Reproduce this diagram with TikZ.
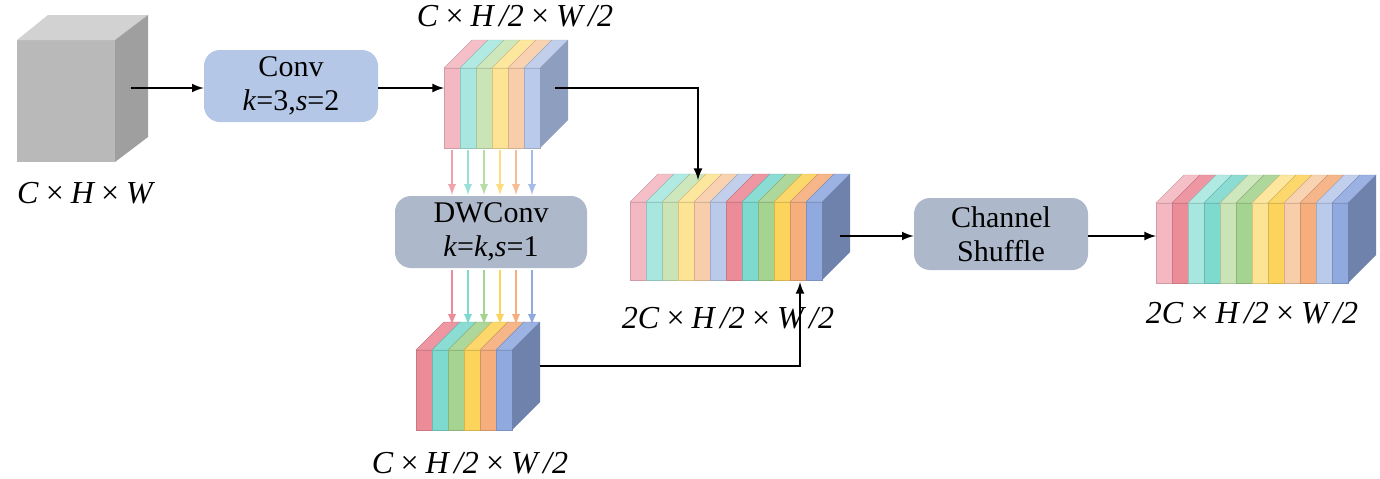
\documentclass[tikz,border=0pt]{standalone}
\usepackage{fontspec}
\setmainfont{Liberation Serif}
\begin{document}
\definecolor{lp}{HTML}{F4B8C2}\definecolor{lc}{HTML}{A8E6E0}\definecolor{lg}{HTML}{CAE4B6}
\definecolor{ly}{HTML}{FDE494}\definecolor{lo}{HTML}{F8CDAA}\definecolor{lb}{HTML}{BACAEA}
\definecolor{dp}{HTML}{EC8C98}\definecolor{dc}{HTML}{7ED9CF}\definecolor{dg}{HTML}{A5D390}
\definecolor{dy}{HTML}{FCD45C}\definecolor{do}{HTML}{F5AE7C}\definecolor{db}{HTML}{90AADF}
\definecolor{sl}{HTML}{8E9EBE}\definecolor{sd}{HTML}{6E82AC}
\definecolor{convc}{HTML}{B4C7E7}\definecolor{boxg}{HTML}{ADB9CA}
\tikzset{box/.style={rounded corners=8pt,minimum width=87pt,minimum height=36pt,align=center,font=\fontsize{15}{17}\selectfont,inner sep=1pt},
lbl/.style={font=\fontsize{16}{18}\selectfont\itshape},
arr/.style={-latex,line width=1pt},
carr/.style={-latex,line width=0.9pt}}
\newcommand\mystack[5]{% x, ytop, h, colors, side
  \foreach \c [count=\i from 0] in {#4}{
    \pgfmathsetmacro\xa{#1+16*\i}
    \fill[\c,draw=\c!85!black,line width=0.2pt] (\xa,#2) rectangle (\xa+16,#2+#3);
    \fill[\c!90!white,draw=\c!85!black,line width=0.2pt] (\xa,#2)--(\xa+28,#2-28)--(\xa+44,#2-28)--(\xa+16,#2)--cycle;
    \xdef\xend{\xa}}
  \fill[#5] (\xend+16,#2)--(\xend+44,#2-28)--(\xend+44,#2+#3-28)--(\xend+16,#2+#3)--cycle;}
\begin{tikzpicture}[x=0.5pt,y=-0.5pt]
\useasboundingbox (0,0) rectangle (1380,478);
% cube
\fill[gray!55] (17,40) rectangle (115,162);
\fill[gray!35] (17,40)--(48,15)--(148,15)--(115,40)--cycle;
\fill[gray!75] (115,40)--(148,15)--(148,137)--(115,162)--cycle;
\coordinate (cube) at (131,88);
\node[lbl] (l0) at (85,193) {C\,×\,H\,×\,W};
% stacks
\mystack{444}{68}{80}{lp,lc,lg,ly,lo,lb}{sl}
\mystack{416}{350}{80}{dp,dc,dg,dy,do,db}{sd}
\mystack{630}{202}{78}{lp,lc,lg,ly,lo,lb,dp,dc,dg,dy,do,db}{sd}
\mystack{1156}{203}{80}{lp,dp,lc,dc,lg,dg,ly,dy,lo,do,lb,db}{sd}
\coordinate (s1w) at (444,88); \coordinate (s1e) at (555,88);
\coordinate (s2e) at (540,366);
\coordinate (s3t) at (698,180); \coordinate (s3b) at (800,282);
\coordinate (s3e) at (840,236); \coordinate (s4w) at (1156,236);
\node[lbl] (l1) at (515,16) {C\,×\,H\,/2\,×\,W\,/2};
\node[lbl] (l2) at (470,463) {C\,×\,H\,/2\,×\,W\,/2};
\node[lbl] (l3) at (728,318) {2C\,×\,H\,/2\,×\,W\,/2};
\node[lbl] (l4) at (1252,313) {2C\,×\,H\,/2\,×\,W\,/2};
% boxes
\node[box,fill=convc] (conv) at (291,86) {Conv\\\textit{k}=3,\textit{s}=2};
\node[box,fill=boxg,minimum width=96pt] (dw) at (491,232) {DWConv\\\textit{k}=\textit{k},\textit{s}=1};
\node[box,fill=boxg] (cs) at (1001,234) {Channel\\Shuffle};
% arrows
\draw[arr] (cube) -- (conv.west|-cube);
\draw[arr] (conv.east|-s1w) -- (s1w);
\draw[arr] (s1e) -| (s3t);
\draw[arr] (s2e) -| (s3b);
\draw[arr] (s3e) -- (cs.west|-s3e);
\draw[arr] (cs.east|-s4w) -- (s4w);
\foreach \c [count=\i from 0] in {dp,dc,dg,dy,do,db}{
  \coordinate (a\i) at (452+16*\i,150);
  \coordinate (b\i) at (452+16*\i,195);
  \coordinate (c\i) at (452+16*\i,270);
  \coordinate (d\i) at (452+16*\i,325);
  \draw[carr,\c!80] (a\i) -- (b\i);
  \draw[carr,\c] (c\i) -- (d\i);}
\end{tikzpicture}
\end{document}
